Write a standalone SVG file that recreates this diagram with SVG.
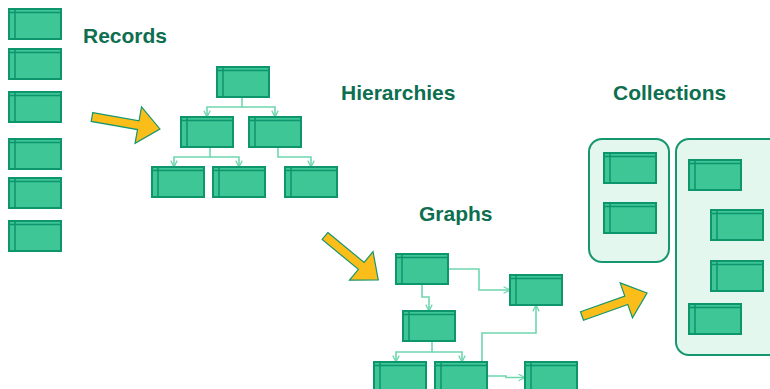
<svg xmlns="http://www.w3.org/2000/svg" xmlns:xlink="http://www.w3.org/1999/xlink" width="770" height="389" viewBox="0 0 770 389">
<style>
.box{fill:#3ec697;stroke:#0d956c;stroke-width:2}
.in{stroke:#0d956c;stroke-width:1.5}
.con{fill:none;stroke:#6fd6ae;stroke-width:1.6}
.cont{fill:#e4f7ee;stroke:#16966e;stroke-width:2}
.lbl{font-family:"Liberation Sans",Arial,sans-serif;font-weight:bold;font-size:21px;fill:#0d6e50}
.arr{fill:#fbbd1a;stroke:#16966e;stroke-width:1.2;stroke-linejoin:miter}
</style>
<defs>
<g id="tbl">
<rect x="0" y="0" width="52" height="30" class="box"/>
<line x1="0" y1="3.5" x2="52" y2="3.5" class="in"/>
<line x1="6" y1="0" x2="6" y2="30" class="in"/>
</g>
<polygon id="bigarrow" points="0,-4.5 47,-4.5 47,-18.5 69,0 47,18.5 47,4.5 0,4.5" class="arr"/>
<marker id="v" viewBox="0 0 10 10" refX="9" refY="5" markerWidth="8" markerHeight="8" markerUnits="userSpaceOnUse" orient="auto">
<path d="M1,1 L9,5 L1,9" fill="none" stroke="#6fd6ae" stroke-width="1.6"/>
</marker>
</defs>
<rect width="770" height="389" fill="#ffffff"/>

<g id="containers">
<rect id="collection-a" x="589" y="139" width="80" height="123" rx="13" class="cont"/>
<rect id="collection-b" x="676" y="139" width="110" height="216" rx="13" class="cont"/>
</g>

<g id="labels">
<text x="83" y="43" class="lbl">Records</text>
<text x="341" y="100" class="lbl">Hierarchies</text>
<text x="613" y="100" class="lbl">Collections</text>
<text x="419" y="221" class="lbl">Graphs</text>
</g>

<g id="connectors">
<path class="con" d="M242,97 V107 H207 V117" marker-end="url(#v)"/>
<path class="con" d="M242,107 H275 V117" marker-end="url(#v)"/>
<path class="con" d="M210,147 V157 H174 V167" marker-end="url(#v)"/>
<path class="con" d="M210,157 H239 V167" marker-end="url(#v)"/>
<path class="con" d="M278,147 V157 H311 V167" marker-end="url(#v)"/>
<path class="con" d="M447,269 H479 V290 H510" marker-end="url(#v)"/>
<path class="con" d="M422,284 V297 H429 V311" marker-end="url(#v)"/>
<path class="con" d="M432,341 V352 H396 V362" marker-end="url(#v)"/>
<path class="con" d="M432,352 H462 V362" marker-end="url(#v)"/>
<path class="con" d="M482,362 V333 H536 V305" marker-end="url(#v)"/>
<path class="con" d="M487,376 H506 V377.5 H525" marker-end="url(#v)"/>
</g>

<g id="arrows">
<use id="arrow-1" xlink:href="#bigarrow" transform="translate(92,117) rotate(10)"/>
<use id="arrow-2" xlink:href="#bigarrow" transform="translate(325,236) rotate(39.5)"/>
<use id="arrow-3" xlink:href="#bigarrow" transform="translate(582,316) rotate(-19.5)"/>
</g>

<g id="record-1"><use xlink:href="#tbl" x="9" y="9"/></g>
<g id="record-2"><use xlink:href="#tbl" x="9" y="49"/></g>
<g id="record-3"><use xlink:href="#tbl" x="9" y="92"/></g>
<g id="record-4"><use xlink:href="#tbl" x="9" y="139"/></g>
<g id="record-5"><use xlink:href="#tbl" x="9" y="178"/></g>
<g id="record-6"><use xlink:href="#tbl" x="9" y="221"/></g>

<g id="hier-root"><use xlink:href="#tbl" x="217" y="67"/></g>
<g id="hier-l2a"><use xlink:href="#tbl" x="181" y="117"/></g>
<g id="hier-l2b"><use xlink:href="#tbl" x="249" y="117"/></g>
<g id="hier-l3a"><use xlink:href="#tbl" x="152" y="167"/></g>
<g id="hier-l3b"><use xlink:href="#tbl" x="213" y="167"/></g>
<g id="hier-l3c"><use xlink:href="#tbl" x="285" y="167"/></g>

<g id="graph-a"><use xlink:href="#tbl" x="396" y="254"/></g>
<g id="graph-b"><use xlink:href="#tbl" x="510" y="275"/></g>
<g id="graph-c"><use xlink:href="#tbl" x="403" y="311"/></g>
<g id="graph-d"><use xlink:href="#tbl" x="374" y="362"/></g>
<g id="graph-e"><use xlink:href="#tbl" x="435" y="362"/></g>
<g id="graph-f"><use xlink:href="#tbl" x="525" y="362"/></g>

<g id="coll-a1"><use xlink:href="#tbl" x="604" y="153"/></g>
<g id="coll-a2"><use xlink:href="#tbl" x="604" y="203"/></g>
<g id="coll-b1"><use xlink:href="#tbl" x="689" y="160"/></g>
<g id="coll-b2"><use xlink:href="#tbl" x="711" y="210"/></g>
<g id="coll-b3"><use xlink:href="#tbl" x="711" y="261"/></g>
<g id="coll-b4"><use xlink:href="#tbl" x="689" y="304"/></g>
</svg>
